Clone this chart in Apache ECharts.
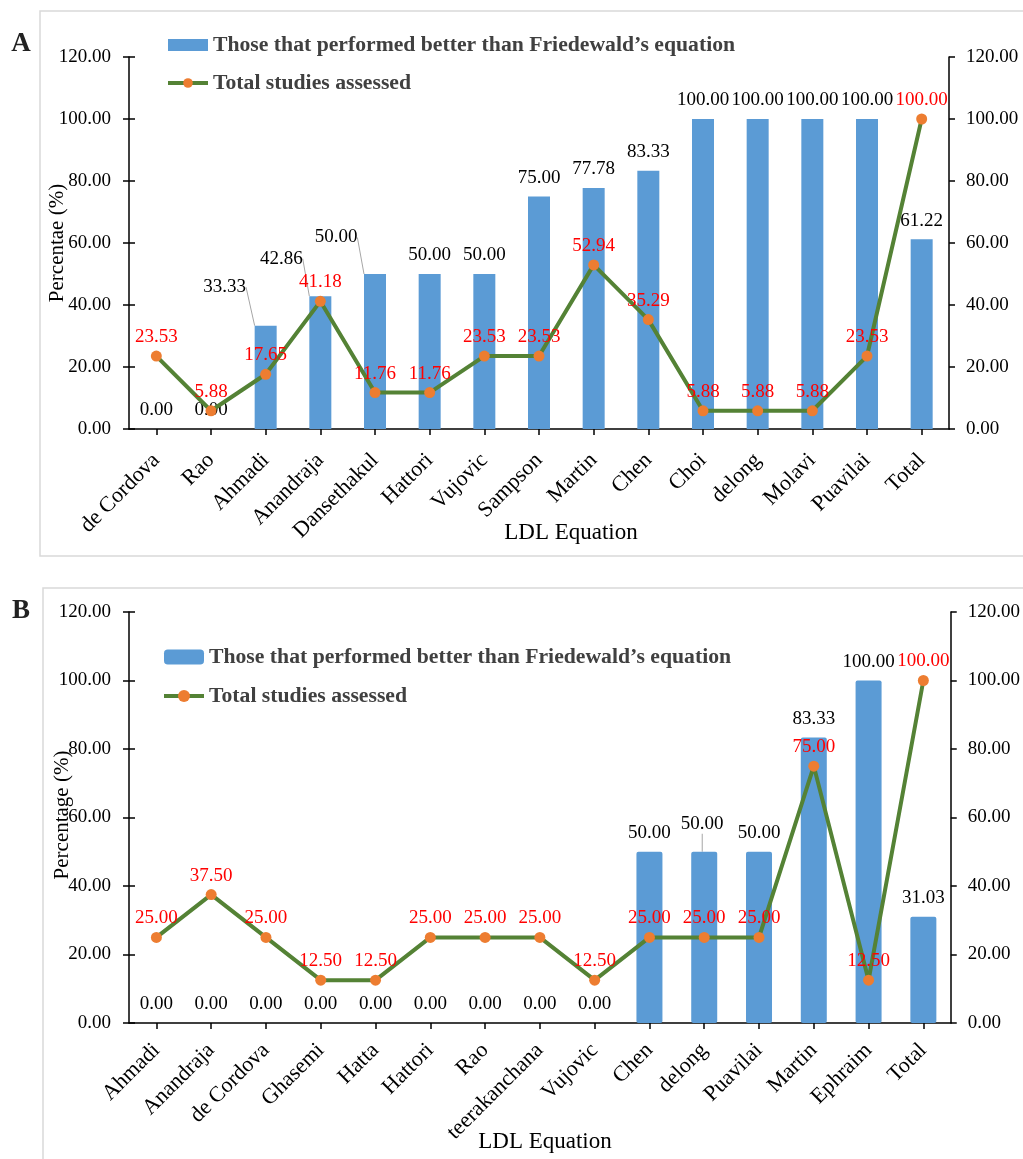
<!DOCTYPE html>
<html><head><meta charset="utf-8">
<script src="https://cdn.jsdelivr.net/npm/echarts@6/dist/echarts.min.js"></script>
<style>
html,body{margin:0;padding:0;background:#fff;width:1023px;height:1159px;overflow:hidden}
#a{position:absolute;left:0;top:0;width:1023px;height:570px}
#b{position:absolute;left:0;top:570px;width:1023px;height:589px}
</style></head><body>
<div id="a"></div><div id="b"></div>
<script>
// ---------- Data ----------
const categoriesA = ['de Cordova','Rao','Ahmadi','Anandraja','Dansethakul','Hattori','Vujovic','Sampson','Martin','Chen','Choi','delong','Molavi','Puavilai','Total'];
const betterA = [0, 0, 33.33, 42.86, 50, 50, 50, 75, 77.78, 83.33, 100, 100, 100, 100, 61.22];
const totalA  = [23.53, 5.88, 17.65, 41.18, 11.76, 11.76, 23.53, 23.53, 52.94, 35.29, 5.88, 5.88, 5.88, 23.53, 100];

const categoriesB = ['Ahmadi','Anandraja','de Cordova','Ghasemi','Hatta','Hattori','Rao','teerakanchana','Vujovic','Chen','delong','Puavilai','Martin','Ephraim','Total'];
const betterB = [0, 0, 0, 0, 0, 0, 0, 0, 0, 50, 50, 50, 83.33, 100, 31.03];
const totalB  = [25, 37.5, 25, 12.5, 12.5, 25, 25, 25, 12.5, 25, 25, 25, 75, 12.5, 100];

const seriesNames = ["Those that performed better than Friedewald\u2019s equation", 'Total studies assessed'];
const yTickValues = [0, 20, 40, 60, 80, 100, 120];

// ---------- Styling ----------
const FONT = "'Liberation Serif','Times New Roman',serif";
const BAR_COLOR = '#5B9BD5';
const LINE_COLOR = '#548235';
const DOT_COLOR = '#ED7D31';

function buildOption(cfg) {
  const fmt = v => Number(v).toFixed(2);
  const barData = cfg.bars.map((v, i) => {
    const mv = cfg.moved[i];
    if (mv) {
      return { value: v, labelLine: { show: true, lineStyle: { color: '#a6a6a6', width: 1 } } };
    }
    return v;
  });
  const yBase = {
    type: 'value', min: yTickValues[0], max: yTickValues[yTickValues.length - 1], interval: 20,
    splitLine: { show: false },
    axisLine: { show: true, lineStyle: { color: '#000', width: 1.5 } },
    axisTick: { show: true, length: 6, lineStyle: { color: '#000', width: 1.5 } },
    axisLabel: { formatter: fmt, fontFamily: FONT, fontSize: 19, color: '#000', margin: 18 }
  };
  return {
    animation: false,
    textStyle: { fontFamily: FONT },
    grid: cfg.grid,
    legend: {
      orient: 'vertical', left: cfg.legendLeft, top: cfg.legendTop, itemGap: cfg.legendGap,
      itemWidth: 40, itemHeight: cfg.legendItemH,
      textStyle: { fontFamily: FONT, fontSize: 21.7, fontWeight: 'bold', color: '#404040' },
      data: [
        { name: seriesNames[0], icon: cfg.legendBarIcon },
        { name: seriesNames[1], lineStyle: { width: 4, color: LINE_COLOR } }
      ]
    },
    xAxis: {
      type: 'category', data: cfg.categories,
      axisLine: { show: true, lineStyle: { color: '#000', width: 1.5 } },
      axisTick: { show: true, alignWithLabel: true, length: 6, lineStyle: { color: '#000', width: 1.5 } },
      axisLabel: { rotate: 45, fontFamily: FONT, fontSize: 22, color: '#000', margin: cfg.xMargin, interval: 0 }
    },
    yAxis: [
      Object.assign({}, yBase, { position: 'left' }),
      Object.assign({}, yBase, { position: 'right', axisLabel: Object.assign({}, yBase.axisLabel, { margin: 17 }) }),
      Object.assign({}, yBase, { position: 'left', axisLine: { show: false },
        axisTick: { show: true, inside: true, length: 6, lineStyle: { color: '#000', width: 1.5 } },
        axisLabel: { show: false } })
    ],
    series: [
      {
        name: seriesNames[0], type: 'bar', yAxisIndex: 0, data: barData, barWidth: cfg.barWidth,
        itemStyle: { color: BAR_COLOR, borderRadius: cfg.barRadius },
        label: { show: true, position: 'top', distance: 9, formatter: p => fmt(p.value),
          fontFamily: FONT, fontSize: 19, color: '#000' },
        labelLayout: function (p) {
          const mv = cfg.moved[p.dataIndex];
          if (mv) return { dx: mv[0], dy: mv[1] };
          return {};
        },
        z: 2
      },
      {
        name: seriesNames[1], type: 'line', yAxisIndex: 1, data: cfg.line,
        symbol: 'circle', symbolSize: 11,
        lineStyle: { color: LINE_COLOR, width: 4 },
        itemStyle: { color: DOT_COLOR },
        label: { show: true, position: 'top', distance: 4, formatter: p => fmt(p.value),
          fontFamily: FONT, fontSize: 19, color: '#FF0000' },
        z: 3
      }
    ],
    graphic: cfg.graphic
  };
}

const movedA = { 2: [-41, -20], 3: [-39, -19], 4: [-39, -18] };
const movedB = { 10: [-2, -9] };

const chartA = echarts.init(document.getElementById('a'), null, { renderer: 'canvas' });
chartA.setOption(buildOption({
  categories: categoriesA, bars: betterA, line: totalA, moved: movedA,
  grid: { left: 129, right: 74, top: 57, bottom: 141 },
  legendLeft: 161, legendTop: 29, legendGap: 16, legendItemH: 12, legendBarIcon: 'rect',
  barWidth: 22, barRadius: 0, xMargin: 28,
  graphic: [
    { type: 'rect', shape: { x: 40, y: 11, width: 1100, height: 545 }, style: { fill: 'none', stroke: '#d9d9d9', lineWidth: 1.5 }, silent: true, z: -1 },
    { type: 'text', x: 21, y: 44, style: { text: 'A', font: 'bold 27px ' + FONT, fill: '#222', align: 'center', verticalAlign: 'middle' } },
    { type: 'text', x: 57, y: 243, rotation: Math.PI / 2, style: { text: 'Percentae (%)', font: '21px ' + FONT, fill: '#000', align: 'center', verticalAlign: 'middle' } },
    { type: 'text', x: 571, y: 533, style: { text: 'LDL Equation', font: '23px ' + FONT, fill: '#000', align: 'center', verticalAlign: 'middle' } }
  ]
}));

const chartB = echarts.init(document.getElementById('b'), null, { renderer: 'canvas' });
chartB.setOption(buildOption({
  categories: categoriesB, bars: betterB, line: totalB, moved: movedB,
  grid: { left: 129, right: 70, top: 42, bottom: 136 },
  legendLeft: 157, legendTop: 71, legendGap: 17, legendItemH: 15, legendBarIcon: 'roundRect',
  barWidth: 26, barRadius: 2, xMargin: 24,
  graphic: [
    { type: 'rect', shape: { x: 43, y: 18, width: 1100, height: 700 }, style: { fill: 'none', stroke: '#d9d9d9', lineWidth: 1.5 }, silent: true, z: -1 },
    { type: 'text', x: 21, y: 41, style: { text: 'B', font: 'bold 27px ' + FONT, fill: '#222', align: 'center', verticalAlign: 'middle' } },
    { type: 'text', x: 62, y: 245, rotation: Math.PI / 2, style: { text: 'Percentage (%)', font: '21px ' + FONT, fill: '#000', align: 'center', verticalAlign: 'middle' } },
    { type: 'text', x: 545, y: 572, style: { text: 'LDL Equation', font: '23px ' + FONT, fill: '#000', align: 'center', verticalAlign: 'middle' } }
  ]
}));
</script>
</body></html>
